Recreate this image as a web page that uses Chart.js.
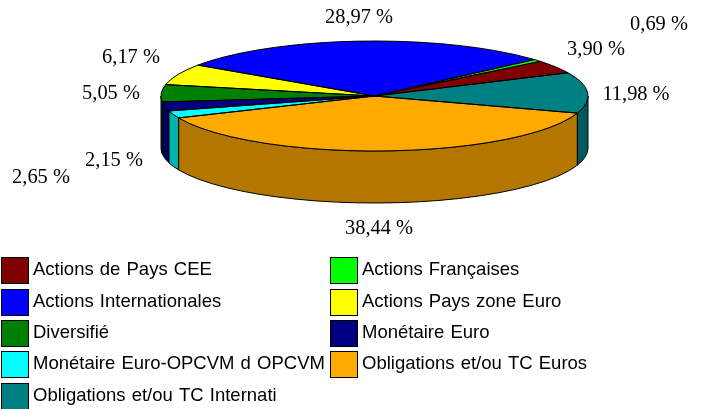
<!DOCTYPE html>
<html>
<head>
<meta charset="utf-8">
<style>html,body{margin:0;padding:0;background:#fff}canvas{display:block}</style>
<script src="https://cdn.jsdelivr.net/npm/chart.js@4"></script>
</head>
<body>
<canvas id="c" width="702" height="409"></canvas>
<script>
const categories = ["Actions de Pays CEE","Actions Françaises","Actions Internationales","Actions Pays zone Euro","Diversifié","Monétaire Euro","Monétaire Euro-OPCVM d OPCVM","Obligations et/ou TC Euros","Obligations et/ou TC Internati"];
const values = [3.90,0.69,28.97,6.17,5.05,2.65,2.15,38.44,11.98];
const topColors = ["#800000","#00FF00","#0000FF","#FFFF00","#008000","#000080","#00FFFF","#FFAA00","#008080"];
const wallColors = ["#590000","#00B300","#0000B3","#B3B300","#005900","#000059","#00B3B3","#B37700","#005A5A"];
const valueLabelAnchors = [[596,50],[659,25],[359,18],[131,58],[111,94],[41,178],[114,161],[379,229],[636,95]];
const legendCells = [[1,257],[330,257],[1,289],[330,289],[1,320],[330,320],[1,351],[330,351],[1,383]];
const xStretch = 213.5/55, wallDepth = 52;

function geom(chart){
  const a = chart.getDatasetMeta(0).data;
  return a.map(e => ({x:e.x, y:e.y, rx:e.outerRadius*xStretch, ry:e.outerRadius, from:-e.endAngle, to:-e.startAngle}));
}
const pie3d = {
  id:'pie3d',
  beforeDatasetsDraw(chart){
    const ctx = chart.ctx, g = geom(chart);
    ctx.save();
    ctx.lineWidth = 1; ctx.strokeStyle = '#000'; ctx.lineJoin = 'round';
    g.forEach((s,i)=>{
      for(let k=-2;k<=1;k++){
        const lo = Math.max(s.from, k*2*Math.PI), hi = Math.min(s.to, k*2*Math.PI+Math.PI);
        if(hi<=lo) continue;
        ctx.beginPath();
        ctx.ellipse(s.x,s.y,s.rx,s.ry,0,lo,hi,false);
        ctx.ellipse(s.x,s.y+wallDepth,s.rx,s.ry,0,hi,lo,true);
        ctx.closePath();
        ctx.fillStyle = wallColors[i];
        ctx.fill(); ctx.stroke();
      }
    });
    ctx.restore();
    const s = g[0];
    ctx.save();
    ctx.translate(s.x,s.y); ctx.scale(xStretch,-1); ctx.translate(-s.x,-s.y);
  },
  afterDatasetsDraw(chart){
    const ctx = chart.ctx;
    ctx.restore();
    ctx.save();
    ctx.lineWidth = 1; ctx.strokeStyle = '#000'; ctx.lineJoin = 'round';
    geom(chart).forEach(s=>{
      ctx.beginPath();
      ctx.moveTo(s.x,s.y);
      ctx.ellipse(s.x,s.y,s.rx,s.ry,0,s.from,s.to,false);
      ctx.closePath();
      ctx.stroke();
    });
    ctx.restore();
  },
  afterDraw(chart){
    const ctx = chart.ctx;
    ctx.save();
    ctx.textBaseline = 'middle';
    ctx.fillStyle = '#000';
    ctx.font = '20.4px "Liberation Serif"';
    ctx.textAlign = 'center';
    values.forEach((v,i)=>{
      ctx.fillText(v.toFixed(2).replace('.',',')+' %', valueLabelAnchors[i][0], valueLabelAnchors[i][1]);
    });
    ctx.textAlign = 'left';
    ctx.font = '18.5px "Liberation Sans"';
    ctx.wordSpacing = '1px';
    categories.forEach((t,i)=>{
      const [x,y] = legendCells[i];
      ctx.fillStyle = topColors[i];
      ctx.fillRect(x,y,27,26);
      ctx.strokeStyle = '#000'; ctx.lineWidth = 1;
      ctx.strokeRect(x+0.5,y+0.5,27,26);
      ctx.fillStyle = '#000';
      ctx.fillText(t, x+32, y+13);
    });
    ctx.restore();
  }
};
new Chart(document.getElementById('c'),{
  type:'pie',
  data:{labels:categories,datasets:[{data:values,backgroundColor:topColors,borderWidth:0,clip:false}]},
  plugins:[pie3d],
  options:{
    responsive:false,
    animation:false,
    rotation:115,
    layout:{padding:{left:161,right:114,top:41,bottom:258}},
    plugins:{legend:{display:false},tooltip:{enabled:false}}
  }
});
</script>
</body>
</html>
